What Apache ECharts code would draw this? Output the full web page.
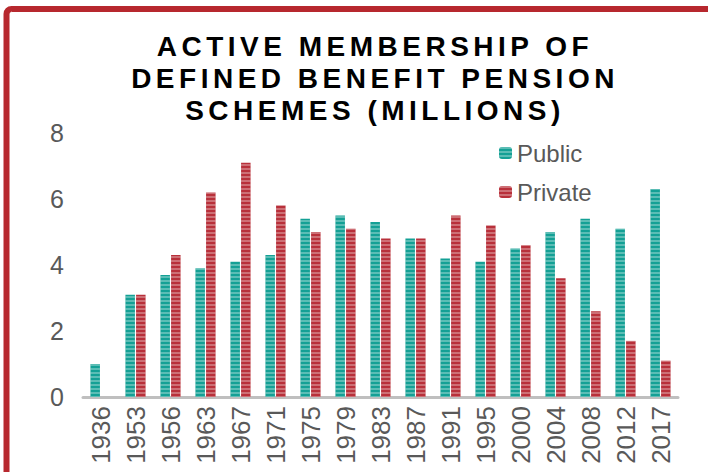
<!DOCTYPE html>
<html>
<head>
<meta charset="utf-8">
<script src="https://cdn.jsdelivr.net/npm/echarts@6/dist/echarts.min.js"></script>
<style>
html,body{margin:0;padding:0;background:#fff;}
#chart{width:708px;height:472px;}
</style>
</head>
<body>
<div id="chart"></div>
<script>
var titleLines = ['ACTIVE MEMBERSHIP OF', 'DEFINED BENEFIT PENSION', 'SCHEMES (MILLIONS)'];
var years = ['1936','1953','1956','1963','1967','1971','1975','1979','1983','1987','1991','1995','2000','2004','2008','2012','2017'];
var publicValues = [1.0, 3.1, 3.7, 3.9, 4.1, 4.3, 5.4, 5.5, 5.3, 4.8, 4.2, 4.1, 4.5, 5.0, 5.4, 5.1, 6.3];
var privateValues = [null, 3.1, 4.3, 6.2, 7.1, 5.8, 5.0, 5.1, 4.8, 4.8, 5.5, 5.2, 4.6, 3.6, 2.6, 1.7, 1.1];
var yTicks = [0, 2, 4, 6, 8];

var chart = echarts.init(document.getElementById('chart'), null, {renderer: 'svg'});
var labelFont = 'Liberation Sans, Arial, sans-serif';
var stripe = {symbol: 'rect', symbolSize: 1, dashArrayX: [1, 0], dashArrayY: [1.5, 1.5], rotation: 0, color: 'rgba(255,255,255,0.3)'};

var option = {
  animation: false,
  aria: {enabled: true, decal: {show: true}, label: {enabled: false}},
  graphic: [
    {type: 'rect', shape: {x: 6.5, y: 9, width: 760, height: 600, r: 5}, style: {fill: 'none', stroke: '#b7282e', lineWidth: 6}, silent: true},
    {type: 'text', x: 375, y: 30, style: {text: titleLines.join('\n'), font: 'bold 28px ' + labelFont, fill: '#000', textAlign: 'center', textVerticalAlign: 'top', lineHeight: 32}}
  ],
  legend: {
    orient: 'vertical', left: 494, top: 136, itemWidth: 13, itemHeight: 12, itemGap: 15,
    textStyle: {fontSize: 24, color: '#595959', fontFamily: labelFont},
    data: ['Public', 'Private']
  },
  grid: {left: 83, right: 30, top: 133, bottom: 75, containLabel: false},
  xAxis: {
    type: 'category', data: years,
    axisLine: {lineStyle: {color: '#bfbfbf', width: 3}},
    axisTick: {show: false},
    axisLabel: {rotate: 90, fontSize: 26, color: '#595959', fontFamily: labelFont, margin: 9, interval: 0}
  },
  yAxis: {
    type: 'value', min: yTicks[0], max: yTicks[yTicks.length - 1], interval: 2,
    splitLine: {show: false}, axisLine: {show: false}, axisTick: {show: false},
    axisLabel: {fontSize: 25, color: '#595959', fontFamily: labelFont, margin: 19}
  },
  series: [
    {name: 'Public', type: 'bar', data: publicValues, barWidth: 9.5, barGap: '12%',
     itemStyle: {color: '#14a095', decal: stripe}},
    {name: 'Private', type: 'bar', data: privateValues, barWidth: 9.5, barGap: '12%',
     itemStyle: {color: '#b8303a', decal: stripe}}
  ]
};
chart.setOption(option);

function spaceTitle() {
  var texts = document.querySelectorAll('#chart text');
  texts.forEach(function (t) {
    if (titleLines.indexOf(t.textContent) >= 0) {
      t.setAttribute('letter-spacing', '4.5px');
      t.style.letterSpacing = '4.5px';
    }
  });
}
spaceTitle();
chart.on('finished', spaceTitle);
</script>
</body>
</html>
